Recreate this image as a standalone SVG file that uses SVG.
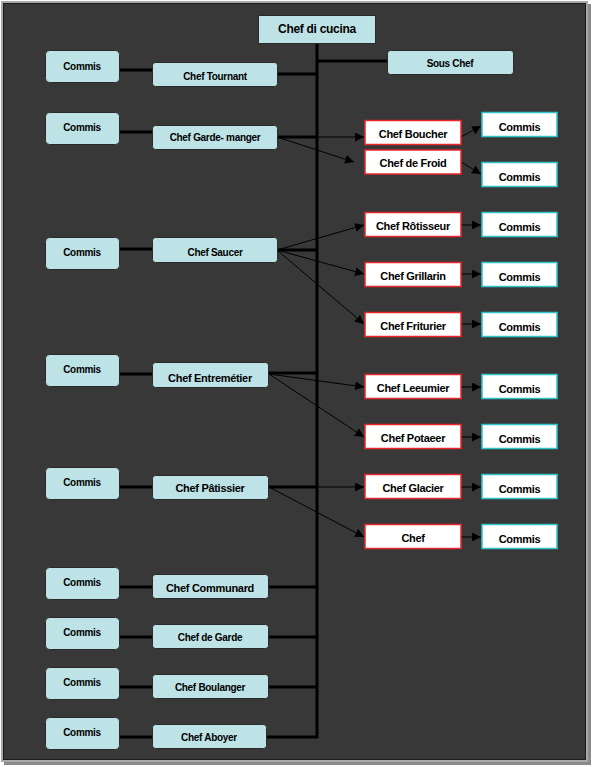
<svg xmlns="http://www.w3.org/2000/svg" width="593" height="767" viewBox="0 0 593 767">
<defs>
<style>
.lb{fill:#bde3e6;stroke:#2a2a2a;stroke-width:1}
.rc{fill:#ffffff;stroke:#e8262c;stroke-width:1.5}
.rm{fill:#ffffff;stroke:#33c4c8;stroke-width:1.5}
text{font-family:"Liberation Sans",Arial,sans-serif;font-weight:bold;fill:#000;text-anchor:middle;letter-spacing:-0.3px}
.s10{font-size:10px}
.s11{font-size:11px}
.s12{font-size:12px}
.thick{stroke:#000;stroke-width:3;fill:none}
.arr{stroke:#000;stroke-width:1;fill:none;marker-end:url(#ah)}
</style>
<marker id="ah" viewBox="0 0 10 10" refX="10" refY="5" markerWidth="9" markerHeight="9" markerUnits="userSpaceOnUse" orient="auto">
<path d="M0,0 L10,5 L0,10 z" fill="#000"/>
</marker>
</defs>
<rect x="0" y="0" width="593" height="767" fill="#ffffff"/>
<rect x="4" y="4" width="587" height="761" fill="#8a8a8a"/>
<rect x="1" y="1" width="587" height="761" fill="#a8a8a8"/>
<rect x="3.5" y="3.5" width="582" height="756" fill="#383838" stroke="#1c1c1c" stroke-width="1"/>

<g id="connectors">
<path class="thick" d="M317,44 V737 H267"/>
<path class="thick" d="M317,61 H387"/>
<path class="thick" d="M277,74 H317"/>
<path class="thick" d="M277,137 H317"/>
<path class="thick" d="M277,250 H317"/>
<path class="thick" d="M269,373 H317"/>
<path class="thick" d="M269,487 H317"/>
<path class="thick" d="M269,587 H317"/>
<path class="thick" d="M269,637 H317"/>
<path class="thick" d="M269,687 H317"/>
<path class="thick" d="M119,70 H152"/>
<path class="thick" d="M119,132 H152"/>
<path class="thick" d="M119,249 H152"/>
<path class="thick" d="M119,374 H152"/>
<path class="thick" d="M119,487 H152"/>
<path class="thick" d="M119,587 H152"/>
<path class="thick" d="M119,637 H152"/>
<path class="thick" d="M119,687 H152"/>
<path class="thick" d="M119,737 H152"/>
<path class="arr" d="M277,137 L364,137"/>
<path class="arr" d="M277,137 L354,162"/>
<path class="arr" d="M277,250 L364,225"/>
<path class="arr" d="M277,250 L364,274"/>
<path class="arr" d="M277,250 L364,324"/>
<path class="arr" d="M269,374 L364,387"/>
<path class="arr" d="M269,374 L364,437"/>
<path class="arr" d="M269,487 L364,487"/>
<path class="arr" d="M269,487 L364,537"/>
<path class="arr" d="M461,137 L481,126"/>
<path class="arr" d="M461,162 L481,174"/>
<path class="arr" d="M461,225 L481,225"/>
<path class="arr" d="M461,274 L481,274"/>
<path class="arr" d="M461,324 L481,324"/>
<path class="arr" d="M461,387 L481,387"/>
<path class="arr" d="M461,437 L481,437"/>
<path class="arr" d="M461,487 L481,487"/>
<path class="arr" d="M461,537 L481,537"/>
</g>

<g id="chef-di-cucina"><rect x="258.5" y="15.5" width="117" height="28" fill="#bde3e6" stroke="#2a2a2a"/><text class="s12" x="317" y="33">Chef di cucina</text></g>
<g id="sous-chef"><rect class="lb" x="387.5" y="50.5" width="126" height="24" rx="3"/><text class="s10" x="450" y="67">Sous Chef</text></g>

<g id="commis-1"><rect class="lb" x="45.5" y="50.5" width="74" height="32" rx="4"/><text class="s10" x="82" y="70">Commis</text></g>
<g id="chef-tournant"><rect class="lb" x="152.5" y="62.5" width="125" height="24" rx="3"/><text class="s10" x="215" y="80">Chef Tournant</text></g>

<g id="commis-2"><rect class="lb" x="45.5" y="112.5" width="74" height="32" rx="4"/><text class="s10" x="82" y="131">Commis</text></g>
<g id="chef-garde-manger"><rect class="lb" x="152.5" y="125.5" width="125" height="24" rx="3"/><text class="s10" x="215" y="141">Chef Garde- manger</text></g>

<g id="commis-3"><rect class="lb" x="45.5" y="237.5" width="74" height="32" rx="4"/><text class="s10" x="82" y="256">Commis</text></g>
<g id="chef-saucer"><rect class="lb" x="152.5" y="237.5" width="125" height="25" rx="3"/><text class="s10" x="215" y="256">Chef Saucer</text></g>

<g id="commis-4"><rect class="lb" x="45.5" y="354.5" width="74" height="32" rx="4"/><text class="s10" x="82" y="373">Commis</text></g>
<g id="chef-entremetier"><rect class="lb" x="152.5" y="362.5" width="116" height="25" rx="3"/><text class="s11" x="210" y="382">Chef Entremétier</text></g>

<g id="commis-5"><rect class="lb" x="45.5" y="467.5" width="74" height="32" rx="4"/><text class="s10" x="82" y="486">Commis</text></g>
<g id="chef-patissier"><rect class="lb" x="152.5" y="475.5" width="116" height="24" rx="3"/><text class="s11" x="210" y="492">Chef Pâtissier</text></g>

<g id="commis-6"><rect class="lb" x="45.5" y="567.5" width="74" height="32" rx="4"/><text class="s10" x="82" y="586">Commis</text></g>
<g id="chef-communard"><rect class="lb" x="152.5" y="574.5" width="116" height="24" rx="3"/><text class="s11" x="210" y="592">Chef Communard</text></g>

<g id="commis-7"><rect class="lb" x="45.5" y="617.5" width="74" height="32" rx="4"/><text class="s10" x="82" y="636">Commis</text></g>
<g id="chef-de-garde"><rect class="lb" x="152.5" y="624.5" width="116" height="24" rx="3"/><text class="s10" x="210" y="641">Chef de Garde</text></g>

<g id="commis-8"><rect class="lb" x="45.5" y="667.5" width="74" height="32" rx="4"/><text class="s10" x="82" y="686">Commis</text></g>
<g id="chef-boulanger"><rect class="lb" x="152.5" y="674.5" width="116" height="24" rx="3"/><text class="s10" x="210" y="691">Chef Boulanger</text></g>

<g id="commis-9"><rect class="lb" x="45.5" y="717.5" width="74" height="32" rx="4"/><text class="s10" x="82" y="736">Commis</text></g>
<g id="chef-aboyer"><rect class="lb" x="152.5" y="724.5" width="114" height="24" rx="3"/><text class="s10" x="209" y="741">Chef Aboyer</text></g>

<g id="chef-boucher"><rect class="rc" x="365" y="120.5" width="96" height="24"/><text class="s11" x="413" y="138">Chef Boucher</text></g>
<g id="chef-de-froid"><rect class="rc" x="365" y="150" width="96" height="24"/><text class="s11" x="413" y="167">Chef de Froid</text></g>
<g id="chef-rotisseur"><rect class="rc" x="365" y="212.5" width="96" height="24"/><text class="s11" x="413" y="230">Chef Rôtisseur</text></g>
<g id="chef-grillarin"><rect class="rc" x="365" y="262.5" width="96" height="24"/><text class="s11" x="413" y="280">Chef Grillarin</text></g>
<g id="chef-friturier"><rect class="rc" x="365" y="312.5" width="96" height="24"/><text class="s11" x="413" y="330">Chef Friturier</text></g>
<g id="chef-leeumier"><rect class="rc" x="365" y="374.5" width="96" height="24"/><text class="s11" x="413" y="392">Chef Leeumier</text></g>
<g id="chef-potaeer"><rect class="rc" x="365" y="424.5" width="96" height="24"/><text class="s11" x="413" y="442">Chef Potaeer</text></g>
<g id="chef-glacier"><rect class="rc" x="365" y="474.5" width="96" height="24"/><text class="s11" x="413" y="492">Chef Glacier</text></g>
<g id="chef"><rect class="rc" x="365" y="524.5" width="96" height="24"/><text class="s11" x="413" y="542">Chef</text></g>

<g id="commis-r1"><rect class="rm" x="482" y="112.5" width="75" height="24"/><text class="s11" x="519.5" y="131">Commis</text></g>
<g id="commis-r2"><rect class="rm" x="482" y="162.5" width="75" height="24"/><text class="s11" x="519.5" y="181">Commis</text></g>
<g id="commis-r3"><rect class="rm" x="482" y="212.5" width="75" height="24"/><text class="s11" x="519.5" y="231">Commis</text></g>
<g id="commis-r4"><rect class="rm" x="482" y="262.5" width="75" height="24"/><text class="s11" x="519.5" y="281">Commis</text></g>
<g id="commis-r5"><rect class="rm" x="482" y="312.5" width="75" height="24"/><text class="s11" x="519.5" y="331">Commis</text></g>
<g id="commis-r6"><rect class="rm" x="482" y="374.5" width="75" height="24"/><text class="s11" x="519.5" y="393">Commis</text></g>
<g id="commis-r7"><rect class="rm" x="482" y="424.5" width="75" height="24"/><text class="s11" x="519.5" y="443">Commis</text></g>
<g id="commis-r8"><rect class="rm" x="482" y="474.5" width="75" height="24"/><text class="s11" x="519.5" y="493">Commis</text></g>
<g id="commis-r9"><rect class="rm" x="482" y="524.5" width="75" height="24"/><text class="s11" x="519.5" y="543">Commis</text></g>
</svg>
